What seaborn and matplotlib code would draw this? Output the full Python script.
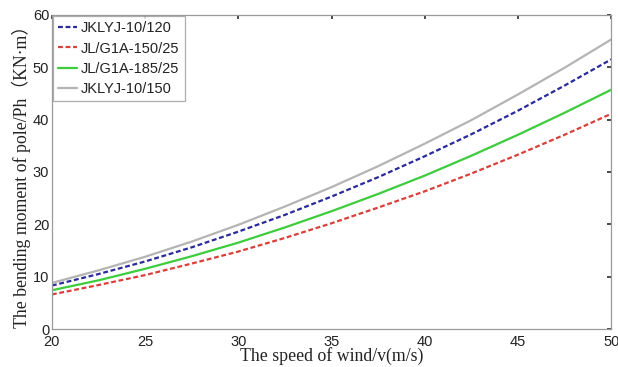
import matplotlib
matplotlib.use("Agg")
import matplotlib.pyplot as plt
import seaborn as sns
import pandas as pd

sns.set_theme(style="white")
plt.rcParams['font.family'] = ['Liberation Sans', 'DejaVu Sans']

wind_speed = [20, 22.5, 25, 27.5, 30, 32.5, 35, 37.5, 40, 42.5, 45, 47.5, 50]
jklyj_10_120 = [8.3, 10.5, 12.9, 15.6, 18.6, 21.8, 25.3, 29.0, 33.0, 37.2, 41.7, 46.5, 51.5]
jl_g1a_150_25 = [6.6, 8.4, 10.3, 12.5, 14.8, 17.4, 20.2, 23.2, 26.3, 29.7, 33.3, 37.1, 41.1]
jl_g1a_185_25 = [7.4, 9.3, 11.5, 13.9, 16.5, 19.4, 22.5, 25.8, 29.3, 33.1, 37.1, 41.3, 45.7]
jklyj_10_150 = [8.8, 11.2, 13.8, 16.7, 19.9, 23.4, 27.1, 31.1, 35.4, 39.9, 44.8, 49.9, 55.3]

series_names = ["JKLYJ-10/120", "JL/G1A-150/25", "JL/G1A-185/25", "JKLYJ-10/150"]
series_values = [jklyj_10_120, jl_g1a_150_25, jl_g1a_185_25, jklyj_10_150]
colors = ["#2a2a9c", "#d9403a", "#3ccc3c", "#b4b4b4"]
dashes = [(2.2, 1.2), (2.2, 1.2), None, None]

fig = plt.figure(figsize=(6.18, 3.67), dpi=100)
ax = fig.add_axes([0.084, 0.1035, 0.905, 0.856])

for name, vals, c, d in zip(series_names, series_values, colors, dashes):
    df = pd.DataFrame({"v": wind_speed, "M": vals})
    sns.lineplot(data=df, x="v", y="M", ax=ax, color=c, linewidth=1.6, label=name)
    if d is not None:
        ax.lines[-1].set_dashes(d)

ax.set_xlim(20, 50)
ax.set_ylim(0, 60)
ax.set_xticks([20, 25, 30, 35, 40, 45, 50])
ax.set_yticks([0, 10, 20, 30, 40, 50, 60])
ax.tick_params(direction='in', length=3, labelsize=10.5, colors='#333333',
               top=True, right=True, pad=2)
ax.tick_params(axis='x', labelcolor='#222222', pad=4)
ax.tick_params(axis='y', labelcolor='#222222')
for s in ax.spines.values():
    s.set_color('#9a9a9a')
    s.set_linewidth(0.9)

ax.set_xlabel("The speed of wind/v(m/s)", fontfamily=['Liberation Serif', 'Noto Sans CJK SC'],
              fontsize=12.8, labelpad=-1, color='#222222')
ax.set_ylabel("The bending moment of pole/Ph（KN·m）",
              fontfamily=['Liberation Serif', 'Noto Sans CJK SC'],
              fontsize=12.8, labelpad=1, color='#222222')

leg = ax.legend(loc='upper left', fontsize=10.5, frameon=True, fancybox=False,
                borderpad=0.35, labelspacing=0.42, handlelength=1.3, handletextpad=0.25,
                borderaxespad=0.1)
leg.get_frame().set_edgecolor('#9a9a9a')
leg.get_frame().set_linewidth(0.9)
for t in leg.get_texts():
    t.set_color('#222222')

fig.savefig("out.png", dpi=100)
